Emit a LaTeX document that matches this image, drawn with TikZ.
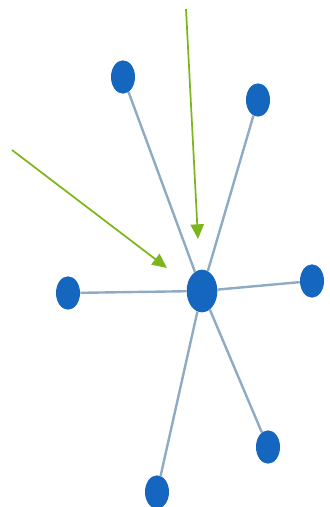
\documentclass[tikz,border=0pt]{standalone}
\usepackage{tikz}
\usetikzlibrary{shapes.geometric,arrows.meta}
\definecolor{dotblue}{HTML}{1466BE}
\definecolor{edgeblue}{HTML}{8EAAC4}
\definecolor{pointgreen}{HTML}{7DB61C}

\begin{document}
\begin{tikzpicture}[x=0.75pt, y=-0.75pt]
  \useasboundingbox (0,0) rectangle (329,507);
  \tikzset{
    leaf/.style={ellipse, fill=dotblue, inner sep=0pt, minimum width=18, minimum height=25},
    hub/.style={ellipse, fill=dotblue, inner sep=0pt, minimum width=23, minimum height=32},
    spoke/.style={edgeblue, line width=1.8pt},
    pointer/.style={pointgreen, line width=1.3pt, -{Triangle[length=11pt, width=10pt]}}
  }
  \node[hub] (centre) at (202,291) {};
  \node[leaf] (topleft) at (123,77) {};
  \node[leaf] (topright) at (258,100) {};
  \node[leaf] (right) at (312,281) {};
  \node[leaf] (left) at (68,293) {};
  \node[leaf] (lowright) at (268,447) {};
  \node[leaf] (bottom) at (157,492) {};
  \draw[spoke] (topleft) -- (centre);
  \draw[spoke] (topright) -- (centre);
  \draw[spoke] (right) -- (centre);
  \draw[spoke] (left) -- (centre);
  \draw[spoke] (lowright) -- (centre);
  \draw[spoke] (bottom) -- (centre);
  \coordinate (tailA) at (186,9);
  \coordinate (tipA) at (198,239);
  \coordinate (tailB) at (12,150);
  \coordinate (tipB) at (167,268);
  \draw[pointer] (tailA) -- (tipA);
  \draw[pointer] (tailB) -- (tipB);
\end{tikzpicture}
\end{document}
